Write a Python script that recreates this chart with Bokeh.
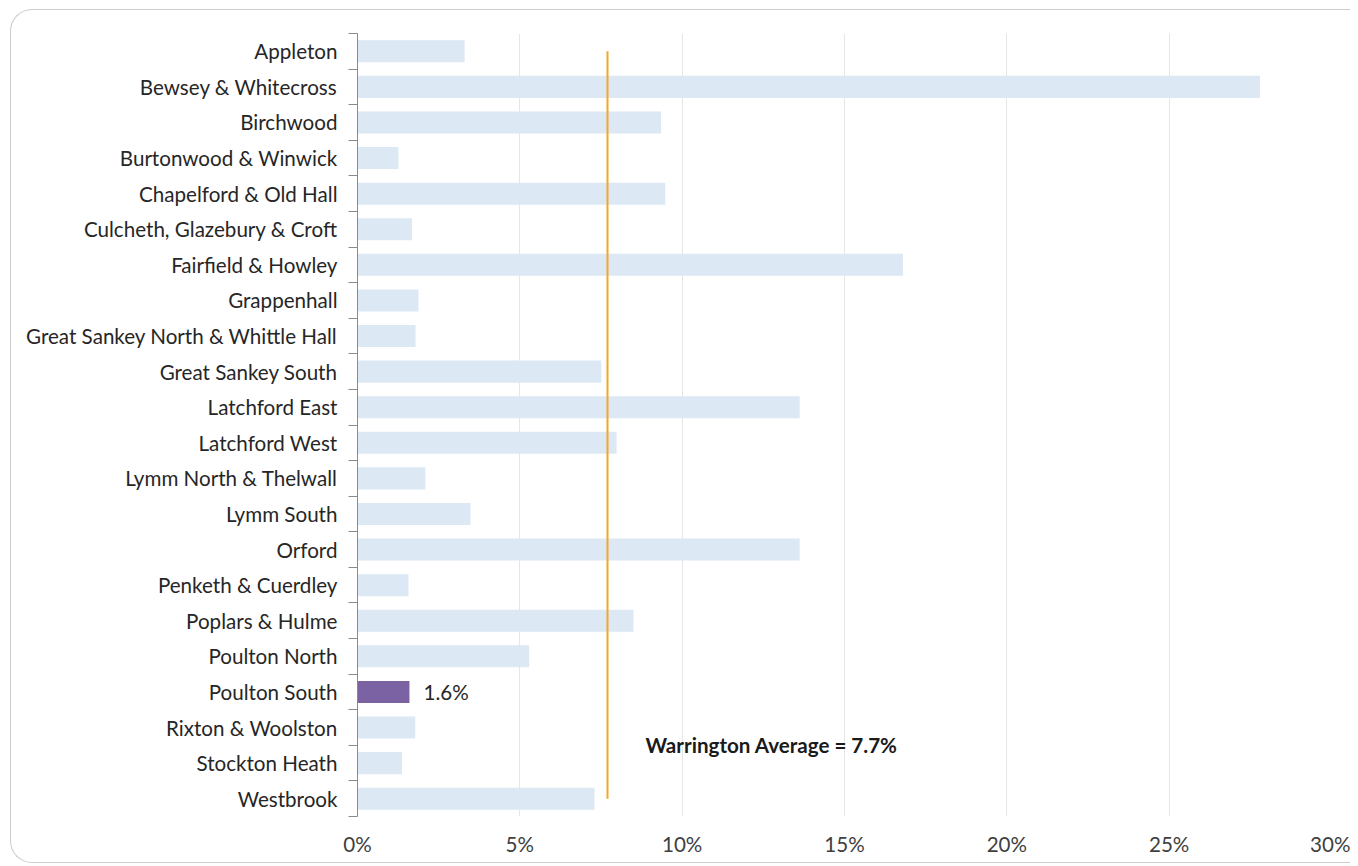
from bokeh.plotting import figure
from bokeh.models import FixedTicker, Label, ColumnDataSource, Range1d, InlineStyleSheet
from bokeh.embed import file_html
from bokeh.resources import INLINE

wards = [
    "Appleton", "Bewsey & Whitecross", "Birchwood", "Burtonwood & Winwick",
    "Chapelford & Old Hall", "Culcheth, Glazebury & Croft", "Fairfield & Howley",
    "Grappenhall", "Great Sankey North & Whittle Hall", "Great Sankey South",
    "Latchford East", "Latchford West", "Lymm North & Thelwall", "Lymm South",
    "Orford", "Penketh & Cuerdley", "Poplars & Hulme", "Poulton North",
    "Poulton South", "Rixton & Woolston", "Stockton Heath", "Westbrook",
]
rates = [
    3.3, 27.8, 9.35, 1.26,
    9.48, 1.68, 16.8,
    1.88, 1.79, 7.51,
    13.62, 7.98, 2.09, 3.48,
    13.62, 1.57, 8.5, 5.29,
    1.6, 1.78, 1.37, 7.3,
]
highlight_ward = "Poulton South"
highlight_label = "1.6%"
average = 7.7
average_label = "Warrington Average = 7.7%"
average_label_x = 8.87
x_ticks = [0, 5, 10, 15, 20, 25, 30]
x_tick_labels = ["0%", "5%", "10%", "15%", "20%", "25%", "30%"]

FONT = "Lato"
FS = "20.6px"
n = len(wards)
ys = list(range(n))
colors = ["#7a62a3" if w == highlight_ward else "#dde8f5" for w in wards]
src = ColumnDataSource(dict(y=ys, right=rates, color=colors, ward=wards))

p = figure(width=1350, height=858, output_backend="svg", toolbar_location=None,
           x_range=Range1d(0, 30), y_range=Range1d(n - 0.5, -0.5),
           min_border_left=357, min_border_right=19, min_border_top=33,
           min_border_bottom=41)
p.outline_line_color = None
p.background_fill_color = "white"
p.border_fill_color = "white"

p.hbar(y="y", left=0, right="right", height=0.62, fill_color="color",
       line_color=None, source=src)

# average line from first to last category centre
p.segment(x0=[average], y0=[ys[0]], x1=[average], y1=[ys[-1]],
          line_color="#f5a623", line_width=2)

# y axis
p.yaxis.ticker = FixedTicker(ticks=ys, minor_ticks=[i - 0.5 for i in range(n + 1)])
p.yaxis.major_label_overrides = {i: w for i, w in zip(ys, wards)}
p.yaxis.major_tick_out = 0
p.yaxis.major_tick_in = 0
p.yaxis.minor_tick_out = 9
p.yaxis.minor_tick_in = 0
p.yaxis.axis_line_color = "#8a8a8a"
p.yaxis.minor_tick_line_color = "#8a8a8a"
p.yaxis.major_label_standoff = 11
p.yaxis.major_label_text_font = FONT
p.yaxis.major_label_text_font_size = FS
p.yaxis.major_label_text_color = "#262626"
p.ygrid.visible = False

# x axis
p.xaxis.ticker = FixedTicker(ticks=x_ticks, minor_ticks=[])
p.xaxis.major_label_overrides = {t: l for t, l in zip(x_ticks, x_tick_labels)}
p.xaxis.axis_line_color = None
p.xaxis.major_tick_line_color = None
p.xaxis.minor_tick_line_color = None
p.xaxis.major_tick_out = 0
p.xaxis.major_tick_in = 0
p.xaxis.major_label_standoff = 15
p.xaxis.major_label_text_font = FONT
p.xaxis.major_label_text_font_size = FS
p.xaxis.major_label_text_color = "#404040"
p.xgrid.ticker = FixedTicker(ticks=x_ticks)
p.xgrid.grid_line_color = "#e6e6e6"
p.xgrid.grid_line_width = 1

hi = wards.index(highlight_ward)
p.add_layout(Label(x=rates[hi], y=ys[hi], x_offset=14, text=highlight_label,
                   text_baseline="middle", text_font=FONT, text_font_size=FS,
                   text_color="#262626"))
p.add_layout(Label(x=average_label_x, y=19.5, text=average_label,
                   text_baseline="middle", text_font=FONT, text_font_size=FS,
                   text_font_style="bold", text_color="#1a1a1a"))

# rounded chart-area border (open on the right, as in the cropped original)
p.stylesheets = [InlineStyleSheet(css="""
:host { position: relative; }
:host::after {
  content: "";
  position: absolute;
  left: 10px; top: 9px; width: 1340px; height: 854px;
  border-left: 1.5px solid #cccccc;
  border-top: 1.5px solid #cccccc;
  border-bottom: 1.5px solid #cccccc;
  border-right: none;
  border-top-left-radius: 22px;
  border-bottom-left-radius: 22px;
  pointer-events: none;
  box-sizing: border-box;
}
""")]

open("out.html", "w").write(file_html(p, INLINE))
